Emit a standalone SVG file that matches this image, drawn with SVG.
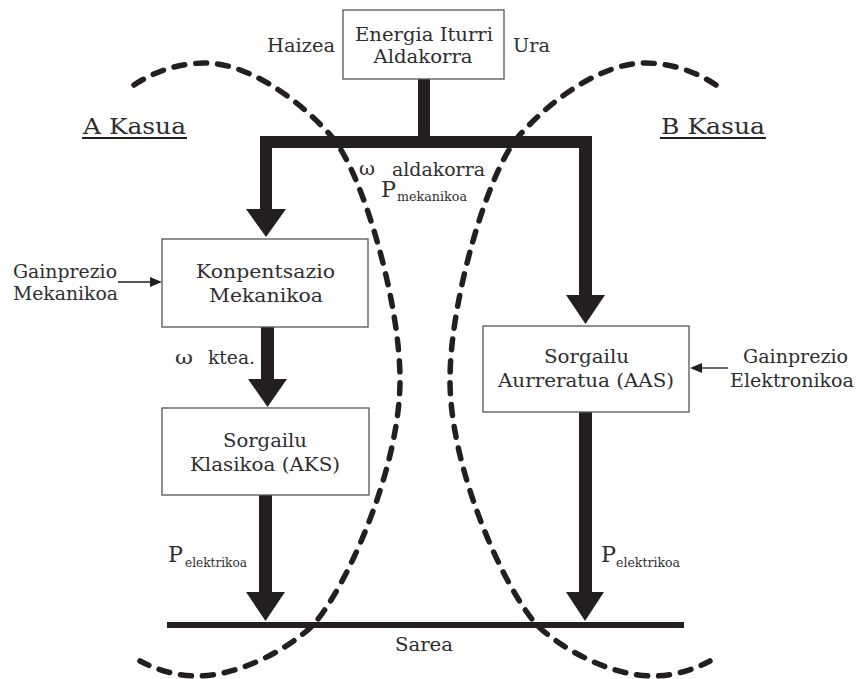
<svg xmlns="http://www.w3.org/2000/svg" xmlns:xlink="http://www.w3.org/1999/xlink" width="857" height="679" viewBox="0 0 857 679">
  <style>
    .t { font-family: "DejaVu Serif", "Liberation Serif", serif; fill: #2e2e2e; font-size: 19px; }
    .big { font-size: 23px; }
    .sub { font-size: 12px; }
    .box { fill: #ffffff; stroke: #555555; stroke-width: 1.3; }
    .thick { fill: #231f20; }
    .wave { fill: none; stroke: #231f20; stroke-width: 5.5; stroke-dasharray: 11 11; stroke-linecap: round; }
    .thin { stroke: #231f20; stroke-width: 1.3; fill: none; }
  </style>
  <defs>
    <path id="wave" d="M134,85 C155,71 180,63 205,63 C245,63 295,95 332,137 C362,172 400,300 400,380 C400,470 345,590 313,625 C290,648 240,676 197,676 C175,676 155,669 140,661"/>
  </defs>
  <rect width="857" height="679" fill="#ffffff"/>

  <g id="connectors">
    <rect class="thick" x="418" y="79" width="12" height="63"/>
    <rect class="thick" x="260" y="136" width="332" height="12"/>
    <rect class="thick" x="260" y="136" width="12" height="74"/>
    <polygon class="thick" points="246,209 286,209 266,237"/>
    <rect class="thick" x="579" y="136" width="13" height="160"/>
    <polygon class="thick" points="566,295 605,295 585.5,324"/>
    <rect class="thick" x="261" y="327" width="13" height="53"/>
    <polygon class="thick" points="248,379 287,379 267.5,407"/>
    <rect class="thick" x="259" y="495" width="13" height="98"/>
    <polygon class="thick" points="246,592 285,592 265.5,621"/>
    <rect class="thick" x="579" y="412" width="13" height="181"/>
    <polygon class="thick" points="566,592 604,592 585,621"/>
    <rect class="thick" x="167" y="622" width="517" height="6"/>
    <line class="thin" x1="118" y1="282" x2="151" y2="282"/>
    <polygon class="thick" points="150,277 162,282 150,287"/>
    <line class="thin" x1="728" y1="368" x2="701" y2="368"/>
    <polygon class="thick" points="702,363 690,368 702,373"/>
  </g>

  <g id="waves">
    <use xlink:href="#wave" class="wave"/>
    <use xlink:href="#wave" class="wave" transform="translate(850,0) scale(-1,1)"/>
  </g>

  <g id="node-energia">
    <rect class="box" x="343" y="10" width="161" height="69"/>
    <text class="t" x="424" y="41" text-anchor="middle" textLength="138" lengthAdjust="spacingAndGlyphs">Energia Iturri</text>
    <text class="t" x="423" y="63" text-anchor="middle" textLength="99" lengthAdjust="spacingAndGlyphs">Aldakorra</text>
  </g>

  <g id="node-konpentsazio">
    <rect class="box" x="162" y="239" width="206" height="88"/>
    <text class="t" x="265.5" y="278" text-anchor="middle" textLength="139" lengthAdjust="spacingAndGlyphs">Konpentsazio</text>
    <text class="t" x="266" y="302" text-anchor="middle" textLength="114" lengthAdjust="spacingAndGlyphs">Mekanikoa</text>
  </g>

  <g id="node-aks">
    <rect class="box" x="162" y="408" width="207" height="87"/>
    <text class="t" x="265" y="447" text-anchor="middle" textLength="84" lengthAdjust="spacingAndGlyphs">Sorgailu</text>
    <text class="t" x="265" y="471" text-anchor="middle" textLength="150" lengthAdjust="spacingAndGlyphs">Klasikoa (AKS)</text>
  </g>

  <g id="node-aas">
    <rect class="box" x="483" y="326" width="206" height="86"/>
    <text class="t" x="586.5" y="363" text-anchor="middle" textLength="85" lengthAdjust="spacingAndGlyphs">Sorgailu</text>
    <text class="t" x="586" y="387" text-anchor="middle" textLength="176" lengthAdjust="spacingAndGlyphs">Aurreratua (AAS)</text>
  </g>

  <g id="labels">
    <text class="t" x="267" y="52" textLength="68" lengthAdjust="spacingAndGlyphs">Haizea</text>
    <text class="t" x="513" y="52" textLength="37" lengthAdjust="spacingAndGlyphs">Ura</text>

    <text class="t big" x="83" y="134" textLength="103" lengthAdjust="spacingAndGlyphs">A Kasua</text>
    <rect class="thick" x="82" y="137" width="105" height="2"/>
    <text class="t big" x="661" y="134" textLength="104" lengthAdjust="spacingAndGlyphs">B Kasua</text>
    <rect class="thick" x="660" y="137" width="106" height="2"/>

    <text class="t" x="359" y="175" font-size="21" textLength="16" lengthAdjust="spacingAndGlyphs">ω</text>
    <text class="t" x="392" y="176" textLength="93" lengthAdjust="spacingAndGlyphs">aldakorra</text>
    <text class="t big" x="381" y="197" textLength="15" lengthAdjust="spacingAndGlyphs">P</text>
    <text class="t sub" x="397" y="201" textLength="70" lengthAdjust="spacingAndGlyphs">mekanikoa</text>

    <text class="t" x="13" y="278" textLength="104" lengthAdjust="spacingAndGlyphs">Gainprezio</text>
    <text class="t" x="13" y="300" textLength="105" lengthAdjust="spacingAndGlyphs">Mekanikoa</text>

    <text class="t" x="175" y="364" font-size="21" textLength="18" lengthAdjust="spacingAndGlyphs">ω</text>
    <text class="t" x="208" y="364" textLength="47" lengthAdjust="spacingAndGlyphs">ktea.</text>

    <text class="t" x="743" y="363" textLength="105" lengthAdjust="spacingAndGlyphs">Gainprezio</text>
    <text class="t" x="730" y="387" textLength="124" lengthAdjust="spacingAndGlyphs">Elektronikoa</text>

    <text class="t big" x="168" y="562" textLength="15" lengthAdjust="spacingAndGlyphs">P</text>
    <text class="t sub" x="185" y="567" textLength="62" lengthAdjust="spacingAndGlyphs">elektrikoa</text>
    <text class="t big" x="601" y="562" textLength="15" lengthAdjust="spacingAndGlyphs">P</text>
    <text class="t sub" x="616" y="567" textLength="64" lengthAdjust="spacingAndGlyphs">elektrikoa</text>

    <text class="t" x="395" y="651" textLength="58" lengthAdjust="spacingAndGlyphs">Sarea</text>
  </g>
</svg>
